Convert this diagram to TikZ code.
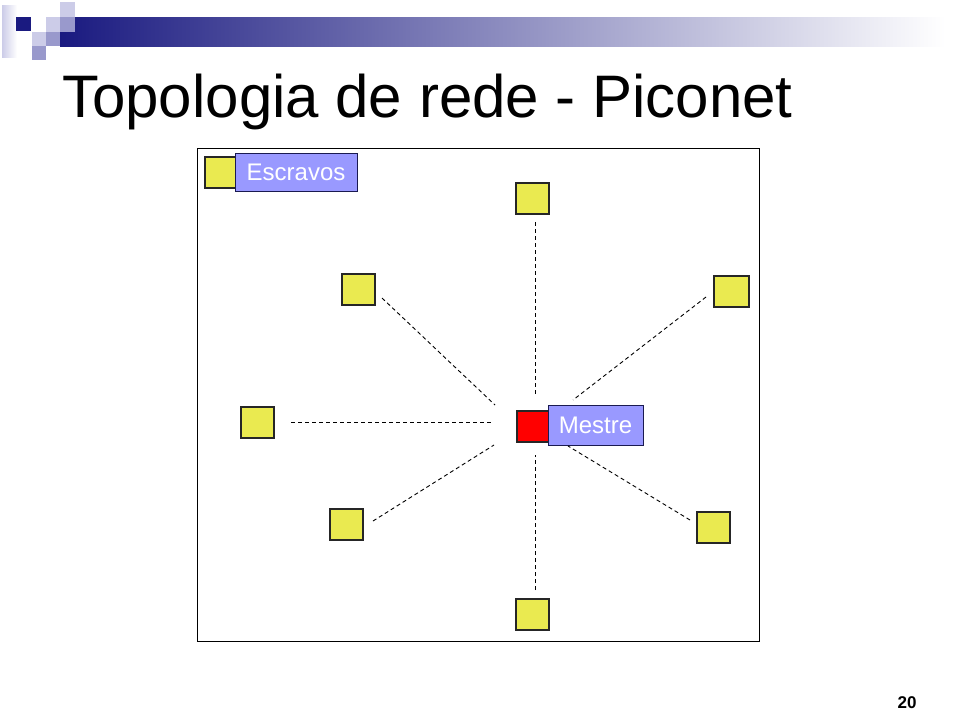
\documentclass[tikz,border=0pt]{standalone}
\usepackage{fontspec}
\setmainfont{Liberation Sans}
\definecolor{navy}{HTML}{1A1A80}
\definecolor{lightlav}{HTML}{CCCCE8}
\definecolor{medlav}{HTML}{9999CC}
\definecolor{midbar}{HTML}{8E8EB4}
\definecolor{slaveyellow}{HTML}{EAEA50}
\definecolor{labellav}{HTML}{9999FF}
\definecolor{labelborder}{HTML}{1A1A50}
\begin{document}
\begin{tikzpicture}[x=1pt,y=-1pt,
  slavebox/.style={rectangle,draw=black!85,line width=2pt,fill=slaveyellow,minimum width=33pt,minimum height=31pt,inner sep=0pt},
  masterbox/.style={slavebox,fill=red},
  tagbox/.style={rectangle,draw=labelborder,line width=1pt,fill=labellav,text=white,font=\fontsize{24}{28}\selectfont,inner sep=0pt},
  link/.style={draw=black,line width=0.9pt,dash pattern=on 4pt off 3pt}]
\useasboundingbox (0,0) rectangle (960,710);
% header decoration
\shade[left color=lightlav,right color=white] (2,5) rectangle (17,57);
\fill[navy] (16,17) rectangle (31,31);
\shade[left color=navy,middle color=midbar,right color=white] (60,17) rectangle (945,46);
\fill[lightlav] (32,32) rectangle (46,46);
\fill[medlav] (32,46) rectangle (46,60);
\fill[medlav] (46,32) rectangle (60,46);
\fill[lightlav] (46,17) rectangle (60,32);
\fill[lightlav] (60,2) rectangle (75,17);
\fill[medlav] (60,17) rectangle (75,32);
% title
\node[anchor=base west,inner sep=0pt,font=\fontsize{60}{70}\selectfont] (title) at (62,117) {Topologia de rede - Piconet};
% frame
\draw[line width=1pt] (197,148) rectangle (759,641);
% nodes
\node[slavebox] (s0) at (221.5,172) {};
\node[slavebox] (s1) at (532.5,198.5) {};
\node[slavebox] (s2) at (358.5,289) {};
\node[slavebox,minimum width=35pt] (s3) at (731,291) {};
\node[slavebox] (s4) at (257.5,422.5) {};
\node[slavebox] (s5) at (346,524) {};
\node[slavebox] (s6) at (713,527.5) {};
\node[slavebox] (s7) at (532.5,614) {};
\node[masterbox] (m) at (533,426.5) {};
\node[tagbox,minimum width=122pt,minimum height=38pt] (esc) at (296,172) {Escravos};
\node[tagbox,minimum width=95pt,minimum height=40pt] (mes) at (595.5,425) {Mestre};
% connector end points
\coordinate (a1) at (535,222); \coordinate (b1) at (535,395);
\coordinate (a2) at (382,298); \coordinate (b2) at (495,405);
\coordinate (a3) at (706,297); \coordinate (b3) at (573,400);
\coordinate (a4) at (291,422); \coordinate (b4) at (491,422);
\coordinate (a5) at (373,521); \coordinate (b5) at (494,445);
\coordinate (a6) at (690,520); \coordinate (b6) at (568,446);
\coordinate (a7) at (535,590); \coordinate (b7) at (535,455);
\draw[link] (a1) -- (b1);
\draw[link] (a2) -- (b2);
\draw[link] (a3) -- (b3);
\draw[link] (a4) -- (b4);
\draw[link] (a5) -- (b5);
\draw[link] (a6) -- (b6);
\draw[link] (a7) -- (b7);
% page number
\node[anchor=base,inner sep=0pt,font=\bfseries\fontsize{17}{20}\selectfont] (pg) at (907,708) {20};
\end{tikzpicture}
\end{document}
